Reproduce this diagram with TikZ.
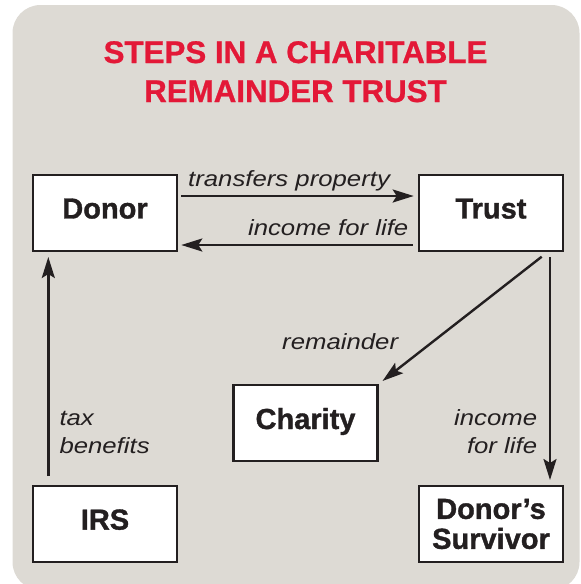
\documentclass[tikz,border=0pt]{standalone}
\usepackage{fontspec}
\setmainfont{Liberation Sans}
\newfontfamily\labelfont[FakeStretch=1.17]{Liberation Sans Italic}
\newfontfamily\heavyfont[FakeBold=1.2]{Liberation Sans Bold}
\newfontfamily\titlefont[FakeBold=0.8]{Liberation Sans Bold}
\usetikzlibrary{arrows.meta}
\definecolor{bg}{RGB}{221,218,212}
\definecolor{titlered}{RGB}{227,24,55}
\definecolor{ink}{RGB}{35,31,32}
\tikzset{
  box/.style={draw=ink, line width=2.6pt, fill=white, minimum width=144pt,
    minimum height=76pt, inner sep=0pt, text=ink, align=center,
    font=\heavyfont\fontsize{29}{30}\selectfont},
  onebox/.style={box, text depth=9pt},
  lab/.style={inner sep=0pt, text=ink, font=\labelfont\fontsize{22}{28}\selectfont},
  ttl/.style={inner sep=0pt, text=titlered, anchor=base,
    font=\titlefont\fontsize{31.3}{39}\selectfont},
  arr/.style={draw=ink, line width=2.4pt,
    -{Stealth[length=21pt,width=13pt,inset=4pt]}},
}
\begin{document}
\begin{tikzpicture}[x=1pt,y=-1pt]
\useasboundingbox (0,0) rectangle (581,584);
\clip (0,0) rectangle (581,584);
\fill[bg, rounded corners=28pt] (12.5,5) rectangle (579.5,590);

\node[ttl] (t1) at (295.5,63) {STEPS IN A CHARITABLE};
\node[ttl] (t2) at (295.5,102) {REMAINDER TRUST};

\node[onebox] (donor) at (105,213) {Donor};
\node[onebox] (trust) at (491,213) {Trust};
\node[onebox] (charity) at (305.5,423) {Charity};
\node[onebox] (irs) at (105,524) {IRS};
\node[box] (surv) at (491,524) {Donor’s\\Survivor};

\draw[arr] ([xshift=3pt,yshift=17pt]donor.east) -- ([xshift=-4pt,yshift=17pt]trust.west);
\draw[arr] ([xshift=-5pt,yshift=-32pt]trust.west) -- ([xshift=3pt,yshift=-32pt]donor.east);
\draw[arr] ([xshift=-56.7pt,yshift=8.5pt]irs.north) -- ([xshift=-56.7pt,yshift=-4.7pt]donor.south);
\draw[arr] ([xshift=50.7pt,yshift=-4.4pt]trust.south) -- ([xshift=3.7pt,yshift=2.7pt]charity.north east);
\draw[arr] ([xshift=59pt,yshift=-4.7pt]trust.south) -- ([xshift=59pt,yshift=4.7pt]surv.north);

\node[lab, anchor=base west] (tp) at (188,186.7) {transfers property};
\node[lab, anchor=base east] (ifl) at (408.5,235.7) {income for life};
\node[lab, anchor=base east] (rem) at (398.3,349) {remainder};
\node[lab, anchor=base west] (tax1) at (59.3,425) {tax};
\node[lab, anchor=base west] (tax2) at (59.3,453.3) {benefits};
\node[lab, anchor=base east] (inc1) at (537.3,425) {income};
\node[lab, anchor=base east] (inc2) at (537.3,453.3) {for life};
\end{tikzpicture}
\end{document}
